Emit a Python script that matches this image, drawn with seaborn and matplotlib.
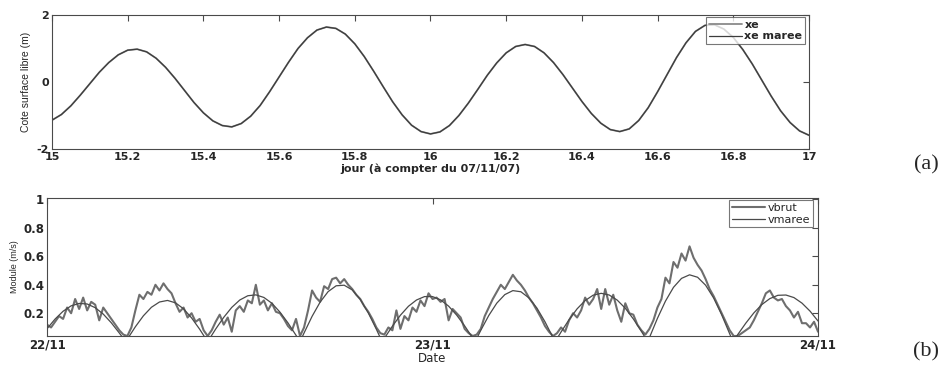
import numpy as np
import pandas as pd
import matplotlib
matplotlib.use("Agg")
import matplotlib.pyplot as plt
import matplotlib.dates as mdates
import seaborn as sns

# ---- (a) cote surface libre, jour 15 -> 17, pas de 0.025 j
jour = np.round(np.arange(15.0, 17.0001, 0.025), 3)
xe = [-1.14, -0.97, -0.71, -0.39, -0.05, 0.29, 0.58, 0.81, 0.95,
      0.98, 0.90, 0.71, 0.44, 0.11, -0.25, -0.61, -0.92, -1.16, -1.30,
      -1.34, -1.24, -1.02, -0.70, -0.29, 0.15, 0.59, 1.00, 1.32, 1.55, 1.64,
      1.60, 1.43, 1.14, 0.76, 0.32, -0.14, -0.59, -0.98, -1.29, -1.48, -1.55,
      -1.49, -1.30, -1.00, -0.63, -0.22, 0.20, 0.57, 0.87, 1.06, 1.12,
      1.06, 0.87, 0.58, 0.22, -0.18, -0.58, -0.94, -1.23, -1.42, -1.48,
      -1.40, -1.15, -0.77, -0.29, 0.22, 0.73, 1.17, 1.51, 1.69,
      1.71, 1.58, 1.33, 0.97, 0.54, 0.06, -0.42, -0.86, -1.21, -1.46, -1.59]
xe_maree = list(xe)  # les deux courbes se superposent

# ---- (b) module de vitesse, 22/11 -> 24/11
# vbrut : un point tous les 15 min
vbrut = [0.12, 0.10, 0.14, 0.18, 0.16, 0.24, 0.20, 0.30, 0.23, 0.31,
         0.22, 0.28, 0.26, 0.15, 0.24, 0.20, 0.16, 0.12, 0.08, 0.05,
         0.04, 0.10, 0.22, 0.33, 0.30, 0.35, 0.33, 0.40, 0.36, 0.41,
         0.37, 0.34, 0.27, 0.21, 0.24, 0.17, 0.20, 0.14, 0.16, 0.08,
         0.04, 0.08, 0.14, 0.19, 0.12, 0.17, 0.07, 0.22, 0.25, 0.21, 0.29, 0.27,
         0.40, 0.26, 0.29, 0.22, 0.27, 0.21, 0.20, 0.16, 0.11, 0.08, 0.16, 0.04,
         0.10, 0.22, 0.36, 0.31, 0.28, 0.39, 0.37, 0.44, 0.45, 0.41,
         0.44, 0.40, 0.37, 0.33, 0.30, 0.25, 0.21, 0.16, 0.10, 0.06,
         0.05, 0.10, 0.08, 0.22, 0.09, 0.18, 0.15, 0.24, 0.21, 0.29, 0.25, 0.34,
         0.30, 0.31, 0.28, 0.30, 0.15, 0.23, 0.20, 0.17, 0.09, 0.06, 0.04,
         0.05, 0.09, 0.18, 0.24, 0.30, 0.35, 0.40, 0.37, 0.42, 0.47,
         0.43, 0.40, 0.36, 0.31, 0.27, 0.22, 0.17, 0.11, 0.07, 0.04,
         0.06, 0.10, 0.07, 0.15, 0.20, 0.17, 0.22, 0.31, 0.26, 0.30, 0.37, 0.23,
         0.37, 0.26, 0.33, 0.22, 0.14, 0.27, 0.20, 0.19, 0.12, 0.08, 0.05,
         0.09, 0.15, 0.24, 0.30, 0.45, 0.41, 0.56, 0.52, 0.62, 0.57, 0.67,
         0.59, 0.54, 0.50, 0.44, 0.37, 0.32, 0.26, 0.20, 0.14, 0.08,
         0.04, 0.04, 0.06, 0.08, 0.10, 0.15, 0.21, 0.27, 0.34, 0.36, 0.31,
         0.29, 0.30, 0.25, 0.22, 0.17, 0.21, 0.13, 0.13, 0.10, 0.14, 0.07]

# vmaree : heures depuis le 22/11 00h et valeurs lues
h_maree = [0.0, 0.5, 1.0, 1.5, 2.0, 2.5, 3.0, 3.5, 4.0, 4.5, 4.9,
           5.0, 5.5, 6.0, 6.5, 7.0, 7.5, 8.0, 8.5, 9.0, 9.5, 10.0,
           10.5, 11.0, 11.5, 12.0, 12.5, 13.0, 13.5, 14.0, 14.5, 15.0, 15.5, 15.75,
           16.0, 16.5, 17.0, 17.5, 18.0, 18.5, 19.0, 19.5, 20.0, 20.5, 20.86,
           21.0, 21.5, 22.0, 22.5, 23.0, 23.5, 24.0, 24.5, 25.0, 25.5, 26.0, 26.5, 26.65,
           27.0, 27.5, 28.0, 28.5, 29.0, 29.5, 30.0, 30.5, 31.0, 31.5, 31.63,
           32.0, 32.5, 33.0, 33.5, 34.0, 34.5, 35.0, 35.5, 36.0, 36.5, 37.0, 37.4,
           37.5, 38.0, 38.5, 39.0, 39.5, 40.0, 40.5, 41.0, 41.5, 42.0, 42.5, 42.7,
           43.0, 43.5, 44.0, 44.5, 45.0, 45.5, 46.0, 46.5, 47.0, 47.5, 48.0]
vmaree = [0.091, 0.159, 0.214, 0.252, 0.269, 0.265, 0.239, 0.194, 0.133, 0.061, 0.0,
          0.018, 0.105, 0.182, 0.242, 0.279, 0.290, 0.273, 0.231, 0.167, 0.088, 0.0,
          0.089, 0.171, 0.241, 0.293, 0.323, 0.329, 0.311, 0.270, 0.208, 0.132, 0.045, 0.0,
          0.061, 0.178, 0.278, 0.352, 0.393, 0.397, 0.364, 0.297, 0.202, 0.088, 0.0,
          0.024, 0.109, 0.186, 0.249, 0.293, 0.317, 0.317, 0.294, 0.250, 0.187, 0.111, 0.026, 0.0,
          0.079, 0.184, 0.271, 0.331, 0.359, 0.351, 0.308, 0.236, 0.140, 0.029, 0.0,
          0.068, 0.155, 0.231, 0.289, 0.327, 0.340, 0.328, 0.292, 0.235, 0.160, 0.073, 0.0,
          0.028, 0.164, 0.285, 0.382, 0.445, 0.470, 0.453, 0.397, 0.307, 0.189, 0.055, 0.0,
          0.050, 0.130, 0.202, 0.261, 0.303, 0.326, 0.328, 0.310, 0.271, 0.215, 0.145]

t0 = pd.Timestamp("2007-11-22")
t_brut = pd.date_range(t0, periods=len(vbrut), freq="15min")
t_maree = t0 + pd.to_timedelta(h_maree, unit="h")

sns.set_style("white")
plt.rcParams["font.family"] = ["DejaVu Sans"]

fig = plt.figure(figsize=(9.52, 3.74), dpi=100)
ax1 = fig.add_axes([0.0546, 0.6016, 0.7952, 0.3583])
ax2 = fig.add_axes([0.0494, 0.1016, 0.8099, 0.3690])

spine_col = "#4a4a4a"

# (a)
sns.lineplot(x=jour, y=xe, ax=ax1, color="#8a8a8a", lw=1.3, label="xe")
sns.lineplot(x=jour, y=xe_maree, ax=ax1, color="#3c3c3c", lw=0.9, label="xe maree")
ax1.set_xlim(15, 17)
ax1.set_ylim(-2, 2)
ax1.set_xticks([15, 15.2, 15.4, 15.6, 15.8, 16, 16.2, 16.4, 16.6, 16.8, 17])
ax1.set_xticklabels(["15", "15.2", "15.4", "15.6", "15.8", "16", "16.2", "16.4",
                     "16.6", "16.8", "17"])
ax1.set_yticks([-2, 0, 2])
ax1.set_yticklabels(["-2", "0", "2"])
ax1.set_xlabel("jour (à compter du 07/11/07)", fontsize=8, fontweight="bold",
               labelpad=1)
ax1.set_ylabel("Cote surface libre (m)", family="Liberation Sans", fontsize=7.5,
               labelpad=4)
leg1 = ax1.legend(loc="upper right", bbox_to_anchor=(0.995, 0.985), frameon=True,
                  fancybox=False, edgecolor="#555555", fontsize=8,
                  handlelength=3.0, handletextpad=0.2, borderpad=0.25,
                  labelspacing=0.15, borderaxespad=0)
leg1.get_frame().set_linewidth(0.8)
for t in leg1.get_texts():
    t.set_fontweight("bold")

# (b)
sns.lineplot(x=t_brut, y=vbrut, ax=ax2, color="#6e6e6e", lw=1.5, label="vbrut")
sns.lineplot(x=t_maree, y=vmaree, ax=ax2, color="#4a4a4a", lw=0.9, label="vmaree")
ax2.set_xlim(t0, t0 + pd.Timedelta(days=2))
ax2.set_ylim(0.04, 1.01)
ax2.xaxis.set_major_locator(mdates.DayLocator())
ax2.xaxis.set_major_formatter(mdates.DateFormatter("%d/%m"))
ax2.set_yticks([0.2, 0.4, 0.6, 0.8, 1.0])
ax2.set_yticklabels(["0.2", "0.4", "0.6", "0.8", "1"])
ax2.set_xlabel("Date", fontsize=8.5, labelpad=0)
ax2.set_ylabel("Module (m/s)", family="Liberation Sans", fontsize=6.5, labelpad=3)
leg2 = ax2.legend(loc="upper right", bbox_to_anchor=(0.993, 0.985), frameon=True,
                  fancybox=False, edgecolor="#555555", fontsize=8,
                  handlelength=3.0, handletextpad=0.2, borderpad=0.25,
                  labelspacing=0.15, borderaxespad=0)
leg2.get_frame().set_linewidth(0.8)

for ax, fs in [(ax1, 8), (ax2, 8.5)]:
    ax.tick_params(direction="in", length=4, width=0.8, color=spine_col,
                   top=True, right=True, labelsize=fs, pad=2)
    for lab in ax.get_xticklabels() + ax.get_yticklabels():
        lab.set_fontweight("bold")
    for s in ax.spines.values():
        s.set_color(spine_col)
        s.set_linewidth(0.8)
        s.set_visible(True)

fig.text(0.973, 0.558, "(a)", family="Liberation Serif", fontsize=16,
         ha="center", va="center")
fig.text(0.973, 0.058, "(b)", family="Liberation Serif", fontsize=16,
         ha="center", va="center")

fig.savefig("out.png", dpi=100)
